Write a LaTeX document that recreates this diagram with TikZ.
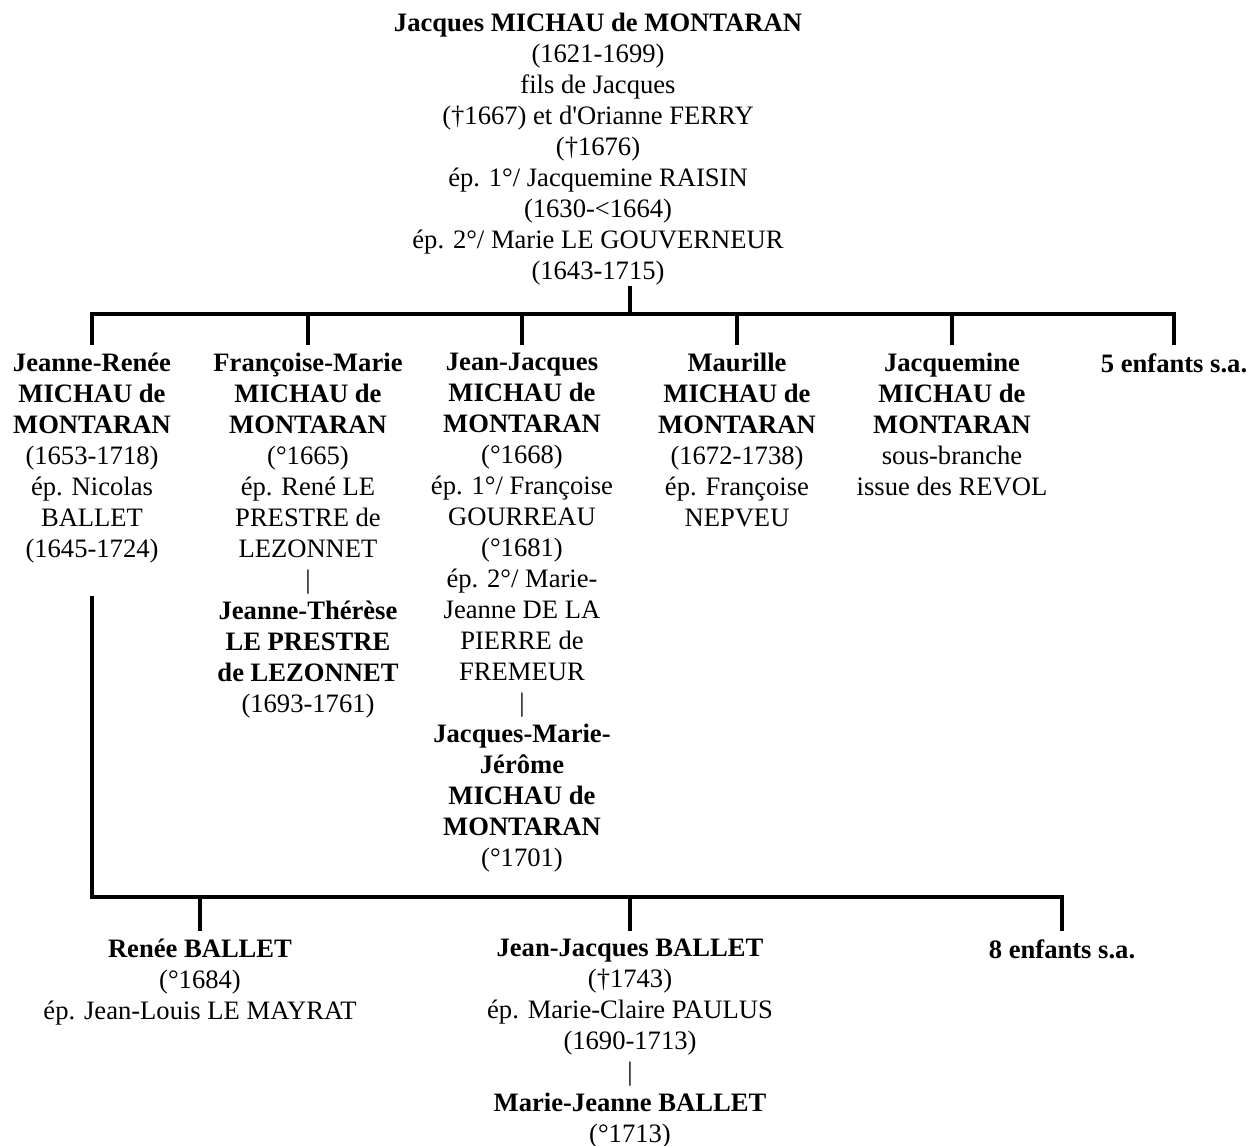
\documentclass[tikz,border=0pt]{standalone}
\usepackage{fontspec}
\setmainfont{Liberation Serif}
\usetikzlibrary{positioning}

\begin{document}
\begin{tikzpicture}[x=0.5pt,y=-0.5pt,
personne/.style={align=center,inner sep=0pt,anchor=north,font=\fontsize{13.3}{15.5}\selectfont},
lien/.style={line width=2pt}]

\useasboundingbox (0,0) rectangle (1254,1146);

\node[personne](jacques) at (598,13){\textbf{Jacques MICHAU de MONTARAN}\\(1621-1699)\\fils de Jacques\\(†1667) et d\textquotesingle Orianne FERRY\\(†1676)\\ép. 1°/ Jacquemine RAISIN\\(1630-<1664)\\ép. 2°/ Marie LE GOUVERNEUR\\(1643-1715)};

\coordinate (barre1) at (630,314);

% enfants de Jacques
\node[personne](jeanne-renee) at (92,353){\textbf{Jeanne-Renée}\\\textbf{MICHAU de}\\\textbf{MONTARAN}\\(1653-1718)\\ép. Nicolas\\BALLET\\(1645-1724)};

\node[personne](francoise-marie) at (308,353){\textbf{Françoise-Marie}\\\textbf{MICHAU de}\\\textbf{MONTARAN}\\(°1665)\\ép. René LE\\PRESTRE de\\LEZONNET\\|\\\textbf{Jeanne-Thérèse}\\\textbf{LE PRESTRE}\\\textbf{de LEZONNET}\\(1693-1761)};

\node[personne](jean-jacques) at (522,353){\textbf{Jean-Jacques}\\\textbf{MICHAU de}\\\textbf{MONTARAN}\\(°1668)\\ép. 1°/ Françoise\\GOURREAU\\(°1681)\\ép. 2°/ Marie-\\Jeanne DE LA\\PIERRE de\\FREMEUR\\|\\\textbf{Jacques-Marie-}\\\textbf{Jérôme}\\\textbf{MICHAU de}\\\textbf{MONTARAN}\\(°1701)};

\node[personne](maurille) at (737,353){\textbf{Maurille}\\\textbf{MICHAU de}\\\textbf{MONTARAN}\\(1672-1738)\\ép. Françoise\\NEPVEU};

\node[personne](jacquemine) at (952,353){\textbf{Jacquemine}\\\textbf{MICHAU de}\\\textbf{MONTARAN}\\sous-branche\\issue des REVOL};

\node[personne](enfants5) at (1174,353){\textbf{5 enfants s.a.}};

\coordinate (barre2) at (630,897);

% enfants de Jeanne-Renee
\node[personne](renee) at (200,939){\textbf{Renée BALLET}\\(°1684)\\ép. Jean-Louis LE MAYRAT};

\node[personne](jj-ballet) at (630,939){\textbf{Jean-Jacques BALLET}\\(†1743)\\ép. Marie-Claire PAULUS\\(1690-1713)\\|\\\textbf{Marie-Jeanne BALLET}\\(°1713)};

\node[personne](enfants8) at (1062,939){\textbf{8 enfants s.a.}};

\begin{scope}[lien]
\draw (jacques.south -| barre1)--(barre1);
\draw ([yshift=4pt]jeanne-renee.north)--(jeanne-renee.north |- barre1)--(enfants5.north |- barre1)--([yshift=4pt]enfants5.north);
\foreach \enfant in {francoise-marie,jean-jacques,maurille,jacquemine}
  \draw (\enfant.north |- barre1)--([yshift=4pt]\enfant.north);

\draw ([yshift=-16pt]jeanne-renee.south)--(jeanne-renee.south |- barre2)--(enfants8.north |- barre2)--([yshift=4pt]enfants8.north);
\foreach \enfant in {renee,jj-ballet}
  \draw (\enfant.north |- barre2)--([yshift=4pt]\enfant.north);
\end{scope}

\end{tikzpicture}
\end{document}
